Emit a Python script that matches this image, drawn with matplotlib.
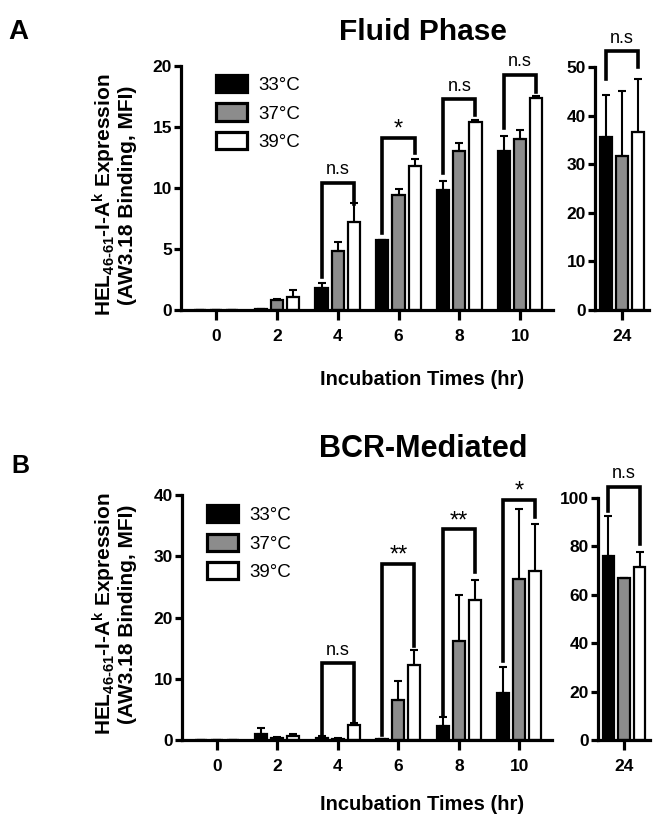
import numpy as np
import matplotlib
matplotlib.use("Agg")
import matplotlib.pyplot as plt
from matplotlib.patches import Patch

plt.rcParams["font.family"] = ["Liberation Sans", "DejaVu Sans"]
plt.rcParams["mathtext.fontset"] = "custom"
plt.rcParams["mathtext.rm"] = "Liberation Sans:bold"
plt.rcParams["mathtext.default"] = "rm"

# ---------------- data ----------------
times = ["0", "2", "4", "6", "8", "10"]
temps = ["33°C", "37°C", "39°C"]
colors = ["black", "#8c8c8c", "white"]

# Fluid phase (A)
fluid_33 = [0, 0.05, 1.8, 5.7, 9.8, 13.0]
fluid_37 = [0, 0.8, 4.8, 9.4, 13.0, 14.0]
fluid_39 = [0, 1.05, 7.2, 11.8, 15.4, 17.4]
fluid_33_err = [0, 0, 0.4, 0.05, 0.8, 1.3]
fluid_37_err = [0, 0.1, 0.8, 0.5, 0.7, 0.75]
fluid_39_err = [0, 0.6, 1.6, 0.6, 0.2, 0.1]
fluid_24 = [35.5, 31.6, 36.7]
fluid_24_err = [8.8, 13.4, 10.8]

# BCR-mediated (B)
bcr_33 = [0, 1.0, 0.3, 0.1, 2.3, 7.6]
bcr_37 = [0, 0.3, 0.2, 6.6, 16.2, 26.3]
bcr_39 = [0, 0.6, 2.5, 12.3, 22.9, 27.6]
bcr_33_err = [0, 1.0, 0.3, 0, 1.4, 4.4]
bcr_37_err = [0, 0.2, 0.1, 3.0, 7.4, 11.4]
bcr_39_err = [0, 0.3, 0.3, 2.4, 3.2, 7.7]
bcr_24 = [76.0, 66.9, 71.5]
bcr_24_err = [16.5, 0, 6.0]

# significance brackets: (group index, left leg y, top y, right leg y, label)
fluid_sig = [(2, 2.7, 10.45, 8.7, "n.s"), (3, 6.3, 14.1, 12.85, "*"),
             (4, 11.2, 17.3, 16.0, "n.s"), (5, 14.9, 19.3, 17.9, "n.s")]
fluid_24_sig = (0, 47.5, 53.2, 50.0, "n.s")
bcr_sig = [(2, 0.8, 12.5, 2.9, "n.s"), (3, 0.8, 28.8, 15.3, "**"),
           (4, 4.0, 34.4, 27.5, "**"), (5, 12.9, 39.2, 36.4, "*")]
bcr_24_sig = (0, 94.6, 104.7, 81.0, "n.s")

W, H = 664, 825
OFF = 0.265
BW = 0.2
SPINE_LW = 2.3


def px_axes(fig, left, right, top, bottom):
    return fig.add_axes([left / W, 1 - bottom / H, (right - left) / W, (bottom - top) / H])


def style(ax, ylim, yticks, xlim):
    ax.set_ylim(*ylim)
    ax.set_yticks(yticks)
    ax.set_xlim(*xlim)
    for s in ["top", "right"]:
        ax.spines[s].set_visible(False)
    for s in ["left", "bottom"]:
        ax.spines[s].set_linewidth(SPINE_LW)
    ax.tick_params(axis="both", width=SPINE_LW, labelsize=12.5, direction="out")
    ax.tick_params(axis="x", length=7, pad=7)
    ax.tick_params(axis="y", length=5, pad=1.5)
    for lab in ax.get_xticklabels() + ax.get_yticklabels():
        lab.set_fontweight("bold")


def draw_bars(ax, x, series, errs):
    for i, (vals, err, c) in enumerate(zip(series, errs, colors)):
        xs = np.asarray(x, dtype=float) + (i - 1) * OFF
        ax.bar(xs, vals, width=BW, color=c, edgecolor="black", linewidth=1.6, zorder=2)
        ax.errorbar(xs, vals, yerr=[np.zeros(len(vals)), err], fmt="none",
                    ecolor="black", elinewidth=1.5, capsize=3, capthick=1.5, zorder=3)


def draw_sig(ax, sig, fs_ns=13, fs_star=17):
    g, yl, yt, yr, lab = sig
    x1, x2 = g - OFF, g + OFF
    ax.plot([x1, x1, x2, x2], [yl, yt, yt, yr], color="black", lw=2.6,
            clip_on=False, solid_joinstyle="miter", zorder=4)
    fs = fs_ns if lab == "n.s" else fs_star
    dy = 3 if lab == "n.s" else -2
    ax.annotate(lab, ((x1 + x2) / 2, yt), xytext=(0, dy), textcoords="offset points",
                ha="center", va="bottom", fontsize=fs, annotation_clip=False)


def legend(ax, anchor):
    handles = [Patch(facecolor=c, edgecolor="black", linewidth=2.3) for c in colors]
    ax.legend(handles, temps, loc="upper left", bbox_to_anchor=anchor, frameon=False,
              fontsize=13.5, handlelength=1.65, handleheight=1.05, handletextpad=0.6,
              labelspacing=0.5, borderpad=0, borderaxespad=0)


fig = plt.figure(figsize=(W / 100, H / 100), dpi=100)
x = np.arange(len(times))
ylabel = "HEL$_{46\u201061}$-I-A$^{k}$ Expression\n(AW3.18 Binding, MFI)"

# ---------- Panel A ----------
axA = px_axes(fig, 181, 553, 66, 310)
draw_bars(axA, x, [fluid_33, fluid_37, fluid_39], [fluid_33_err, fluid_37_err, fluid_39_err])
axA.set_xticks(x, times)
style(axA, (0, 20), [0, 5, 10, 15, 20], (-0.576, 5.54))
for s in fluid_sig:
    draw_sig(axA, s)
legend(axA, (0.094, 0.963))

axA2 = px_axes(fig, 595, 649, 67, 310)
draw_bars(axA2, [0], [[v] for v in fluid_24], [[e] for e in fluid_24_err])
axA2.set_xticks([0], ["24"])
style(axA2, (0, 50), [0, 10, 20, 30, 40, 50], (-0.444, 0.444))
draw_sig(axA2, fluid_24_sig)

# ---------- Panel B ----------
axB = px_axes(fig, 182, 552, 495, 740)
draw_bars(axB, x, [bcr_33, bcr_37, bcr_39], [bcr_33_err, bcr_37_err, bcr_39_err])
axB.set_xticks(x, times)
style(axB, (0, 40), [0, 10, 20, 30, 40], (-0.576, 5.54))
for s in bcr_sig:
    draw_sig(axB, s)
legend(axB, (0.068, 0.959))

axB2 = px_axes(fig, 598, 650, 498, 740)
draw_bars(axB2, [0], [[v] for v in bcr_24], [[e] for e in bcr_24_err])
axB2.set_xticks([0], ["24"])
style(axB2, (0, 100), [0, 20, 40, 60, 80, 100], (-0.444, 0.444))
draw_sig(axB2, bcr_24_sig)

# ---------- labels ----------
fig.text(18 / W, 1 - 32 / H, "A", fontsize=20, fontweight="bold", ha="center", va="center")
fig.text(20 / W, 1 - 466 / H, "B", fontsize=18, fontweight="bold", ha="center", va="center")
fig.text(423 / W, 1 - 32 / H, "Fluid Phase", fontsize=21.5, fontweight="bold", ha="center", va="center")
fig.text(423 / W, 1 - 449 / H, "BCR-Mediated", fontsize=22, fontweight="bold", ha="center", va="center")
fig.text(422 / W, 1 - 379 / H, "Incubation Times (hr)", fontsize=14.5, fontweight="bold", ha="center", va="center")
fig.text(422 / W, 1 - 804 / H, "Incubation Times (hr)", fontsize=14.5, fontweight="bold", ha="center", va="center")
fig.text(114 / W, 1 - 195 / H, ylabel, fontsize=15, fontweight="bold", rotation=90,
         ha="center", va="center", multialignment="center", linespacing=1.0)
fig.text(114 / W, 1 - 614 / H, ylabel, fontsize=15, fontweight="bold", rotation=90,
         ha="center", va="center", multialignment="center", linespacing=1.0)

fig.savefig("out.png", dpi=100)
